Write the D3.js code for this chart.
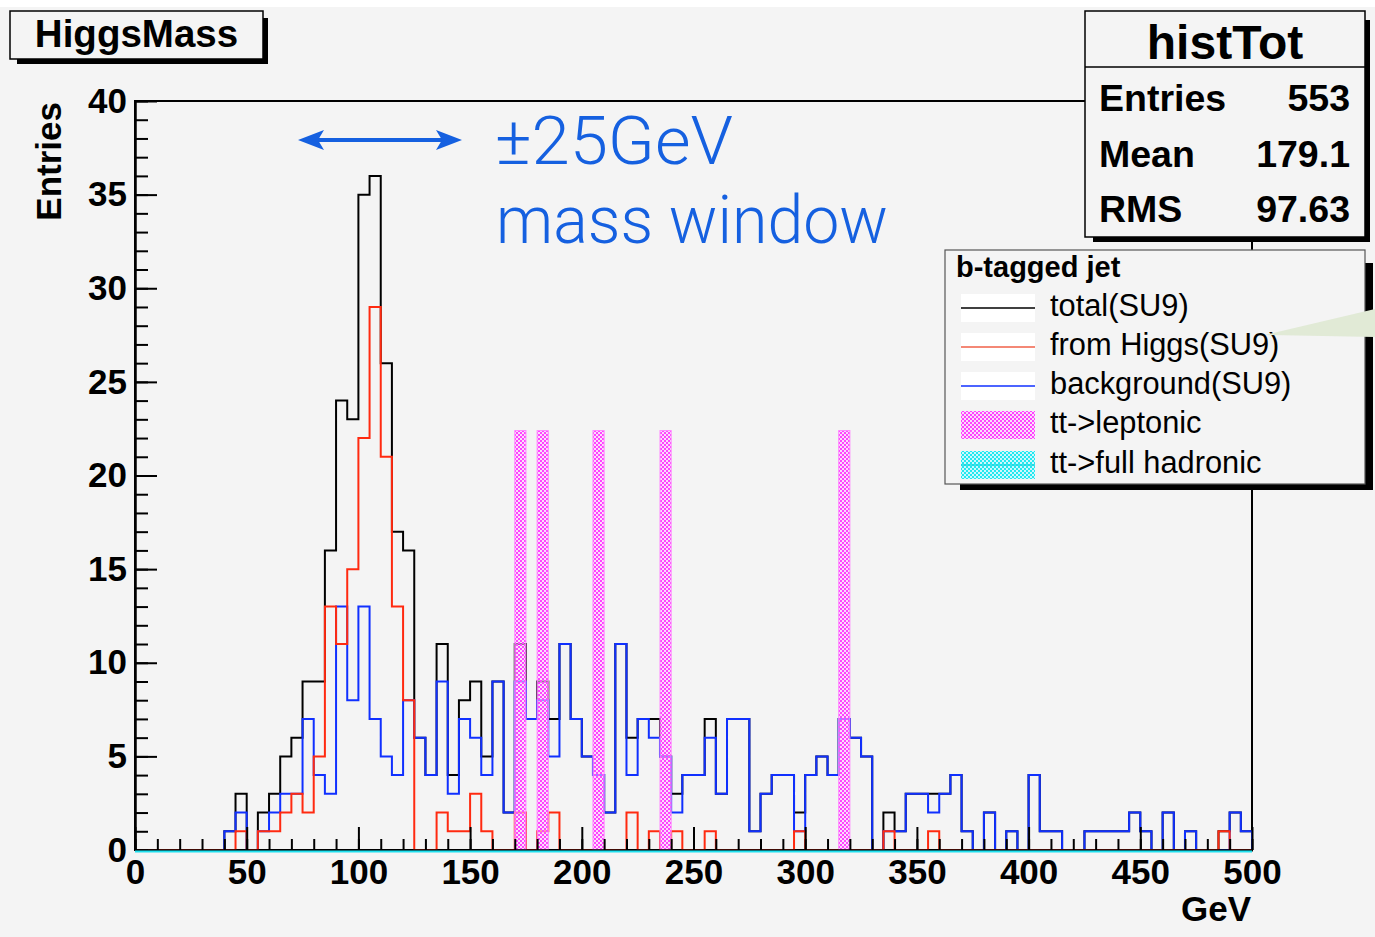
<!DOCTYPE html>
<html>
<head>
<meta charset="utf-8">
<script src="https://cdn.jsdelivr.net/npm/d3@7"></script>
<style>
  html, body { margin: 0; padding: 0; background: #ffffff; }
  svg { display: block; }
</style>
</head>
<body>
<div id="chart"></div>
<script>
// ---------------- DATA ----------------
const binLow = 0;
const binWidth = 5;           // GeV per bin, 100 bins 0..500
const xDomain = [0, 500];
const yDomain = [0, 40];

// total(SU9)
const totalCounts = [
  0,0,0,0,0,0,0,0,1,3,
  0,2,3,5,6,9,9,16,24,23,
  35,36,26,17,16,6,4,11,4,8,
  9,5,9,2,11,7,9,7,11,7,
  5,4,2,11,6,7,7,5,3,4,
  4,7,3,7,7,1,3,4,4,2,
  4,5,4,7,6,5,0,2,1,3,
  3,3,3,4,1,0,2,0,1,0,
  4,1,1,0,0,1,1,1,1,2,
  1,0,2,0,1,0,0,1,2,1
];
// from Higgs(SU9)
const higgsCounts = [
  0,0,0,0,0,0,0,0,0,1,
  0,1,1,2,3,2,5,13,11,15,
  22,29,21,13,8,0,0,2,1,1,
  3,1,0,0,2,0,1,2,0,0,
  0,0,0,0,2,0,1,0,1,0,
  0,1,0,0,0,0,0,0,0,1,
  0,0,0,0,0,0,0,1,0,0,
  0,1,0,0,0,0,0,0,0,0,
  0,0,0,0,0,0,0,0,0,0,
  0,0,0,0,0,0,0,1,0,0
];
// background(SU9)
const backgroundCounts = [
  0,0,0,0,0,0,0,0,1,2,
  0,1,2,3,3,7,4,3,13,8,
  13,7,5,4,8,6,4,9,3,7,
  6,4,9,2,9,7,8,5,11,7,
  5,4,2,11,4,7,6,5,2,4,
  4,6,3,7,7,1,3,4,4,1,
  4,5,4,7,6,5,0,1,1,3,
  3,2,3,4,1,0,2,0,1,0,
  4,1,1,0,0,1,1,1,1,2,
  1,0,2,0,1,0,0,0,2,1
];
// tt->leptonic : bins (lower edge, GeV) and height
const leptonicBinEdges = [170, 180, 205, 235, 315];
const leptonicHeights  = [22.4, 22.4, 22.4, 22.4, 22.4];
// tt->full hadronic : empty
const hadronicCounts = new Array(100).fill(0);

const xMajorTicks = [0, 50, 100, 150, 200, 250, 300, 350, 400, 450, 500];
const xMinorTicks = d3.range(0, 501, 10);
const yMajorTicks = [0, 5, 10, 15, 20, 25, 30, 35, 40];
const yMinorTicks = d3.range(0, 41, 1);

const titleText = "HiggsMass";
const statsTitle = "histTot";
const statsLabels = ["Entries", "Mean", "RMS"];
const statsValues = ["553", "179.1", "97.63"];
const legendHeader = "b-tagged jet";
const legendLabels = ["total(SU9)", "from Higgs(SU9)", "background(SU9)", "tt->leptonic", "tt->full hadronic"];
const xTitle = "GeV";
const yTitle = "Entries";
const annotLine1 = "\u00B125GeV";
const annotLine2 = "mass window";

// ---------------- STYLE ----------------
const W = 1375, H = 937;
const FONT = "'Liberation Sans', Arial, Helvetica, sans-serif";
const BG = "#f4f4f4";
const C_TOTAL = "#000000", C_HIGGS = "#ff2a10", C_BKG = "#1030ff";
const C_ANNOT = "#1560e0";

const svg = d3.select("#chart").append("svg")
  .attr("width", W).attr("height", H)
  .attr("viewBox", `0 0 ${W} ${H}`);

// patterns
const defs = svg.append("defs");
function checker(id, c1, c2) {
  const p = defs.append("pattern").attr("id", id)
    .attr("width", 4).attr("height", 4).attr("patternUnits", "userSpaceOnUse");
  p.append("rect").attr("width", 4).attr("height", 4).attr("fill", c2);
  p.append("rect").attr("x", 0).attr("y", 0).attr("width", 2).attr("height", 2).attr("fill", c1);
  p.append("rect").attr("x", 2).attr("y", 2).attr("width", 2).attr("height", 2).attr("fill", c1);
}
checker("magentaHatch", "#ff44ff", "rgba(255,205,255,0.6)");
checker("cyanHatch", "#22e8f0", "rgba(190,250,255,0.7)");

// canvas
svg.append("rect").attr("x", 0).attr("y", 0).attr("width", W).attr("height", H).attr("fill", "#ffffff");
svg.append("rect").attr("x", 0).attr("y", 7).attr("width", W).attr("height", H - 7).attr("fill", BG);

// scales
const x = d3.scaleLinear().domain(xDomain).range([135, 1252]);
const y = d3.scaleLinear().domain(yDomain).range([850, 101]);

// frame
svg.append("rect").attr("x", x(0)).attr("y", y(40))
  .attr("width", x(500) - x(0)).attr("height", y(0) - y(40))
  .attr("fill", "none").attr("stroke", "#000").attr("stroke-width", 2);

// histogram step lines
function stepPoints(vals) {
  const pts = vals.map((v, i) => [binLow + i * binWidth, v]);
  pts.unshift([binLow, 0]);
  pts.push([binLow + vals.length * binWidth, vals[vals.length - 1]]);
  pts.push([binLow + vals.length * binWidth, 0]);
  return pts;
}
const stepLine = d3.line()
  .x(d => x(d[0])).y(d => y(d[1]))
  .curve(d3.curveStepAfter);

const gHist = svg.append("g").attr("fill", "none").attr("stroke-width", 2).attr("stroke-linejoin", "miter");
gHist.append("path").attr("d", stepLine(stepPoints(totalCounts))).attr("stroke", C_TOTAL);
gHist.append("path").attr("d", stepLine(stepPoints(backgroundCounts))).attr("stroke", C_BKG);
gHist.append("path").attr("d", stepLine(stepPoints(higgsCounts))).attr("stroke", C_HIGGS);

// tt->leptonic bars
svg.append("g").selectAll("rect").data(leptonicBinEdges).join("rect")
  .attr("x", d => x(d))
  .attr("width", d => x(d + binWidth) - x(d))
  .attr("y", (d, i) => y(leptonicHeights[i]))
  .attr("height", (d, i) => y(0) - y(leptonicHeights[i]))
  .attr("fill", "url(#magentaHatch)")
  .attr("stroke", "#ff88ff").attr("stroke-width", 1);

// axes (ticks inside the frame)
const gx = svg.append("g").attr("transform", `translate(0,${y(0)})`);
gx.call(d3.axisBottom(x).tickValues(xMinorTicks).tickSize(-11).tickSizeOuter(0).tickFormat(""));
const gxM = svg.append("g").attr("transform", `translate(0,${y(0)})`);
gxM.call(d3.axisBottom(x).tickValues(xMajorTicks).tickSize(-23).tickSizeOuter(0).tickPadding(9).tickFormat(d3.format("d")));

const gy = svg.append("g").attr("transform", `translate(${x(0)},0)`);
gy.call(d3.axisLeft(y).tickValues(yMinorTicks).tickSize(-13).tickSizeOuter(0).tickFormat(""));
const gyM = svg.append("g").attr("transform", `translate(${x(0)},0)`);
gyM.call(d3.axisLeft(y).tickValues(yMajorTicks).tickSize(-22).tickSizeOuter(0).tickPadding(8).tickFormat(d3.format("d")));

svg.selectAll(".domain").attr("stroke", "#000").attr("stroke-width", 2);
svg.selectAll(".tick line").attr("stroke", "#000").attr("stroke-width", 2);
svg.selectAll(".tick text")
  .attr("font-family", FONT).attr("font-weight", "bold").attr("font-size", 35).attr("fill", "#000");

// tt->full hadronic (empty histogram -> line on baseline)
svg.append("path").attr("d", stepLine(stepPoints(hadronicCounts)))
  .attr("transform", "translate(0,1.5)")
  .attr("fill", "none").attr("stroke", "#1ee0ee").attr("stroke-width", 2);

// axis titles
svg.append("text").attr("x", x(500) - 1).attr("y", 921)
  .attr("text-anchor", "end").attr("font-family", FONT).attr("font-weight", "bold")
  .attr("font-size", 35).text(xTitle);
svg.append("text").attr("transform", `translate(61,${y(40) + 1}) rotate(-90)`)
  .attr("text-anchor", "end").attr("font-family", FONT).attr("font-weight", "bold")
  .attr("font-size", 35).text(yTitle);

// title box
svg.append("rect").attr("x", 17).attr("y", 18).attr("width", 251).attr("height", 46).attr("fill", "#000");
svg.append("rect").attr("x", 10).attr("y", 11).attr("width", 253).attr("height", 48)
  .attr("fill", BG).attr("stroke", "#000").attr("stroke-width", 1.5);
svg.append("text").attr("x", 136.5).attr("y", 47).attr("text-anchor", "middle")
  .attr("font-family", FONT).attr("font-weight", "bold").attr("font-size", 38.5).text(titleText);

// stats box
svg.append("rect").attr("x", 1093).attr("y", 20).attr("width", 277).attr("height", 222).attr("fill", "#000");
svg.append("rect").attr("x", 1085).attr("y", 11).attr("width", 280).attr("height", 226)
  .attr("fill", BG).attr("stroke", "#000").attr("stroke-width", 1.5);
svg.append("line").attr("x1", 1085).attr("x2", 1365).attr("y1", 67).attr("y2", 67)
  .attr("stroke", "#000").attr("stroke-width", 1.5);
svg.append("text").attr("x", 1225).attr("y", 59).attr("text-anchor", "middle")
  .attr("font-family", FONT).attr("font-weight", "bold").attr("font-size", 48).text(statsTitle);
const statBase = [111, 167, 222];
statsLabels.forEach((lab, i) => {
  svg.append("text").attr("x", 1099).attr("y", statBase[i])
    .attr("font-family", FONT).attr("font-weight", "bold").attr("font-size", 37.5).text(lab);
  svg.append("text").attr("x", 1350).attr("y", statBase[i]).attr("text-anchor", "end")
    .attr("font-family", FONT).attr("font-weight", "bold").attr("font-size", 37.5).text(statsValues[i]);
});

// legend
svg.append("rect").attr("x", 960).attr("y", 263).attr("width", 413).attr("height", 227).attr("fill", "#000");
svg.append("rect").attr("x", 945).attr("y", 250).attr("width", 420).attr("height", 234)
  .attr("fill", BG).attr("stroke", "#555").attr("stroke-width", 1.2);
svg.append("text").attr("x", 956).attr("y", 277)
  .attr("font-family", FONT).attr("font-weight", "bold").attr("font-size", 29).text(legendHeader);

const rowCenters = [308, 347, 386, 425, 465];
const sampleColors = [C_TOTAL, "#f06048", C_BKG, null, "#18d8e0"];
legendLabels.forEach((lab, i) => {
  const cy = rowCenters[i];
  const fill = i === 3 ? "url(#magentaHatch)" : i === 4 ? "url(#cyanHatch)" : "#ffffff";
  svg.append("rect").attr("x", 961).attr("y", cy - 14).attr("width", 74).attr("height", 28)
    .attr("fill", fill);
  if (sampleColors[i]) {
    svg.append("line").attr("x1", 961).attr("x2", 1035).attr("y1", cy).attr("y2", cy)
      .attr("stroke", sampleColors[i]).attr("stroke-width", 1.3);
  }
  svg.append("text").attr("x", 1050).attr("y", cy + 8)
    .attr("font-family", FONT).attr("font-size", 30.8).attr("fill", "#000").text(lab);
});

// green callout pointer
svg.append("polygon").attr("points", "1265,335 1375,309 1375,337").attr("fill", "#e1ead6");

// annotation: arrow and text
svg.append("line").attr("x1", 318).attr("x2", 442).attr("y1", 140).attr("y2", 140)
  .attr("stroke", C_ANNOT).attr("stroke-width", 4);
svg.append("polygon").attr("points", "298,140 324,130 318,140 324,150").attr("fill", C_ANNOT);
svg.append("polygon").attr("points", "462,140 436,130 442,140 436,150").attr("fill", C_ANNOT);

svg.append("text").attr("x", 495).attr("y", 164)
  .attr("font-family", "Roboto, 'Open Sans', sans-serif").attr("font-weight", 300)
  .attr("font-size", 67).attr("fill", C_ANNOT)
  .attr("textLength", 238).attr("lengthAdjust", "spacingAndGlyphs").text(annotLine1);
svg.append("text").attr("x", 496).attr("y", 243)
  .attr("font-family", "Roboto, 'Open Sans', sans-serif").attr("font-weight", 300)
  .attr("font-size", 67).attr("fill", C_ANNOT)
  .attr("textLength", 392).attr("lengthAdjust", "spacingAndGlyphs").text(annotLine2);
</script>
</body>
</html>
